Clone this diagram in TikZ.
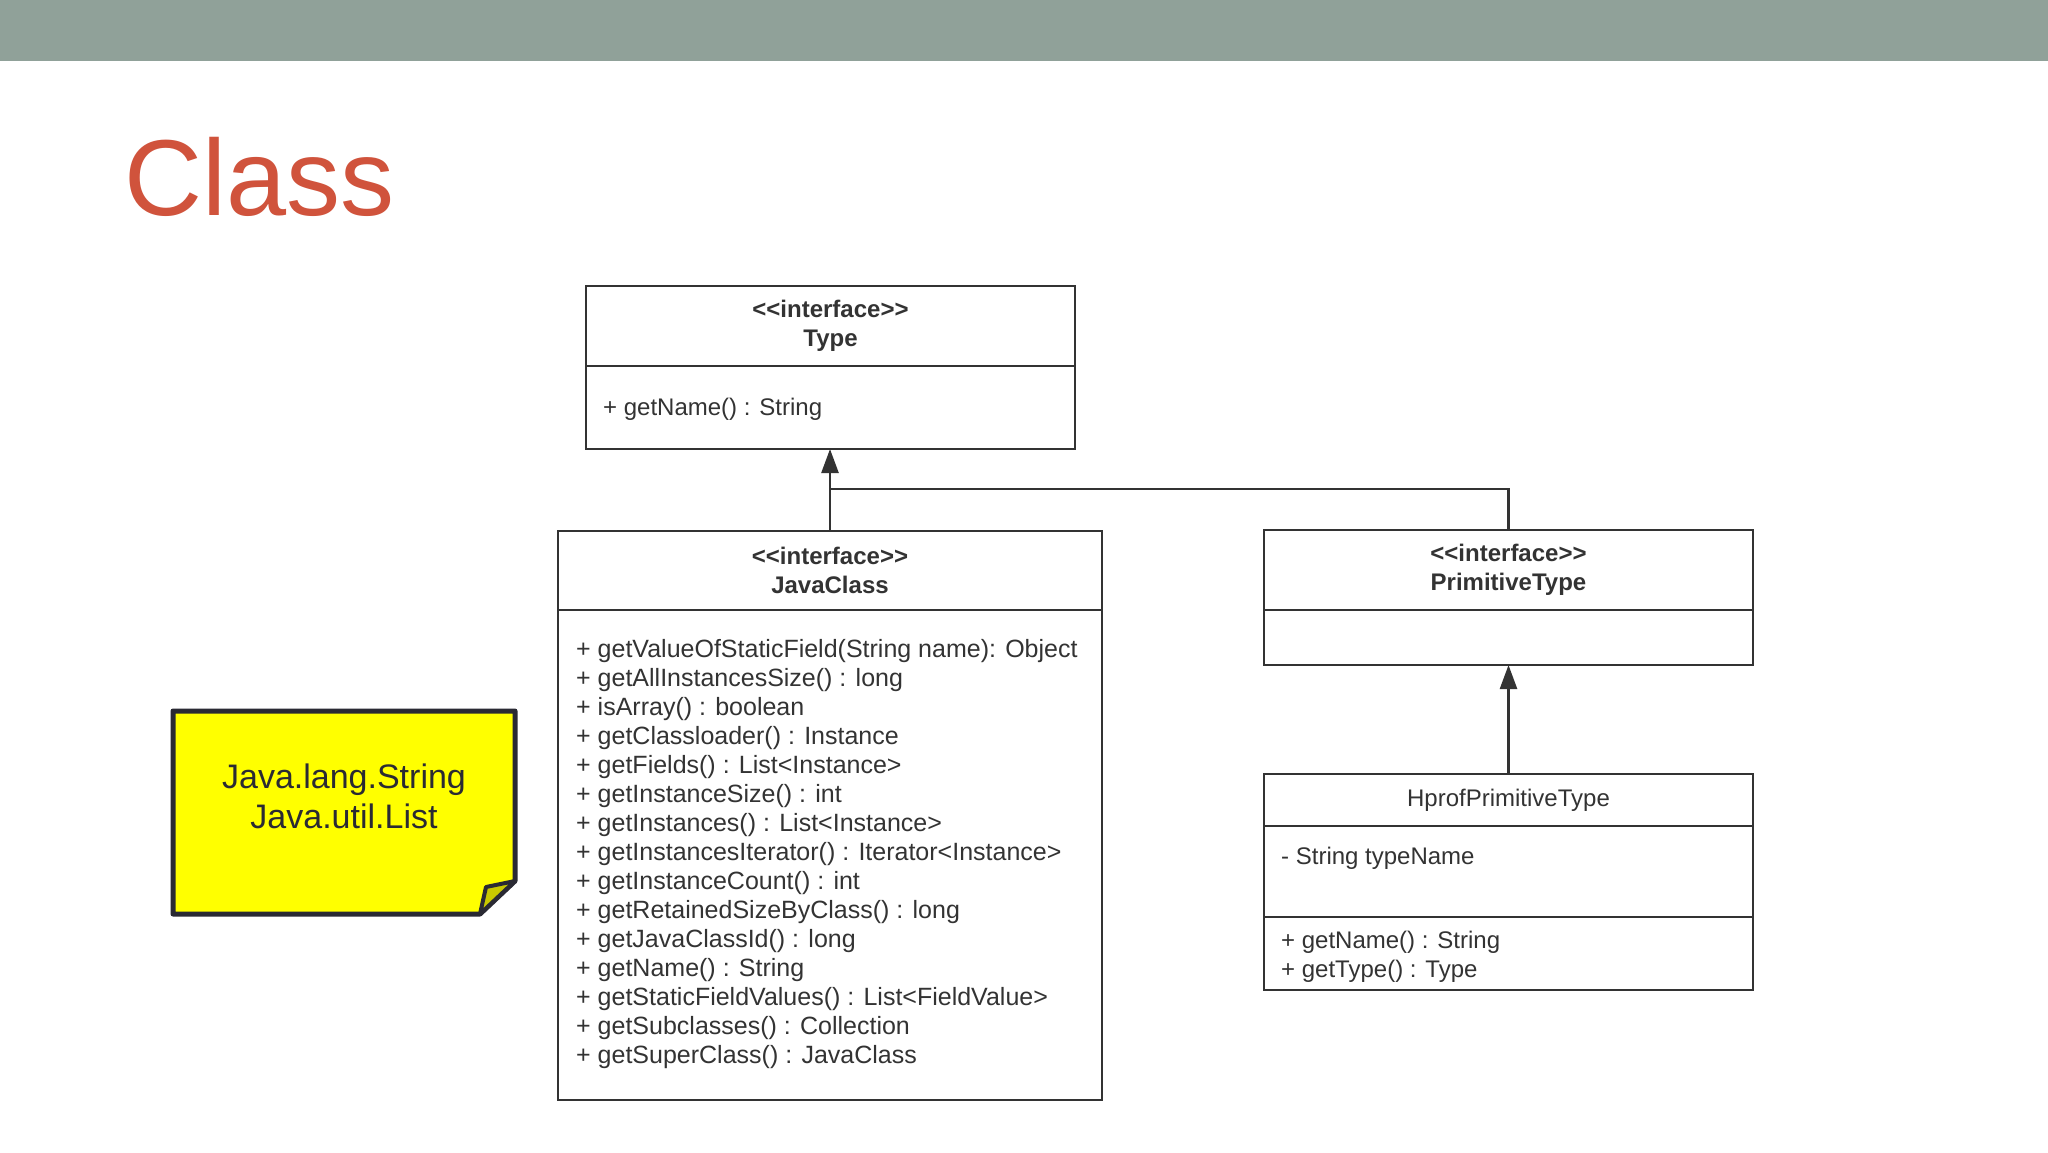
\documentclass[tikz,border=0pt]{standalone}
\usepackage{fontspec}
\setmainfont{Liberation Sans}
\usetikzlibrary{arrows.meta}
\definecolor{barcol}{HTML}{90A199}
\definecolor{titlered}{HTML}{D0533C}
\definecolor{ink}{HTML}{333333}
\definecolor{noteyellow}{HTML}{FFFF00}
\definecolor{noteline}{HTML}{2A2A33}
\definecolor{flapcol}{HTML}{C8C800}
\begin{document}
\begin{tikzpicture}[x=1pt,y=-1pt,
  umlbox/.style={draw=ink, line width=2.5pt, fill=white, inner sep=0pt, outer sep=0pt},
  hdr/.style={font=\bfseries\fontsize{24}{29}\selectfont, align=center, text=ink},
  hdrplain/.style={font=\fontsize{24}{29}\selectfont, align=center, text=ink},
  mtext/.style={anchor=base west, inner sep=0pt, font=\fontsize{24}{29}\selectfont, text=ink},
  jtext/.style={anchor=base west, inner sep=0pt, font=\fontsize{25}{29}\selectfont, text=ink},
  ntext/.style={anchor=base, inner sep=0pt, text=noteline, font=\fontsize{34}{40}\selectfont},
  conn/.style={draw=ink, line width=2.5pt},
  inh/.style={conn, -{Triangle[length=24pt,width=17pt]}}]
\useasboundingbox (0,0) rectangle (2048,1152);
\fill[white] (0,0) rectangle (2048,1152);
% top bar
\fill[barcol] (0,0) rectangle (2048,61);
% title
\node[anchor=base west, inner sep=0pt, text=titlered, font=\fontsize{108}{120}\selectfont] (title) at (124,215) {Class};

% Type
\node[umlbox, hdr, minimum width=489pt, minimum height=80pt] (typeH) at (830.5,326) {<{}<interface>{}>\\Type};
\node[umlbox, minimum width=489pt, minimum height=83pt] (typeB) at (830.5,407.5) {};
\node[mtext] (typeM) at (603,415) {+ getName() : String};

% JavaClass
\node[umlbox, hdr, minimum width=544pt, minimum height=79pt] (jcH) at (830,570.5) {<{}<interface>{}>\\JavaClass};
\node[umlbox, minimum width=544pt, minimum height=490pt] (jcB) at (830,855) {};
\foreach \t [count=\i] in {
  {+ getValueOfStaticField(String name): Object},
  {+ getAllInstancesSize() : long},
  {+ isArray() : boolean},
  {+ getClassloader() : Instance},
  {+ getFields() : List<Instance>},
  {+ getInstanceSize() : int},
  {+ getInstances() : List<Instance>},
  {+ getInstancesIterator() : Iterator<Instance>},
  {+ getInstanceCount() : int},
  {+ getRetainedSizeByClass() : long},
  {+ getJavaClassId() : long},
  {+ getName() : String},
  {+ getStaticFieldValues() : List<FieldValue>},
  {+ getSubclasses() : Collection},
  {+ getSuperClass() : JavaClass}}
  \node[jtext] (jm\i) at (576,{657+29*(\i-1)}) {\t};

% PrimitiveType
\node[umlbox, hdr, minimum width=489pt, minimum height=80pt] (prH) at (1508.5,570) {<{}<interface>{}>\\PrimitiveType};
\node[umlbox, minimum width=489pt, minimum height=55pt] (prB) at (1508.5,637.5) {};

% HprofPrimitiveType
\node[umlbox, hdrplain, minimum width=489pt, minimum height=52pt] (hpH) at (1508.5,800) {HprofPrimitiveType};
\node[umlbox, minimum width=489pt, minimum height=91pt] (hpA) at (1508.5,871.5) {};
\node[umlbox, minimum width=489pt, minimum height=73pt] (hpM) at (1508.5,953.5) {};
\node[mtext] (hpa1) at (1281,864) {- String typeName};
\node[mtext] (hpm1) at (1281,948) {+ getName() : String};
\node[mtext] (hpm2) at (1281,977) {+ getType() : Type};

% connectors
\coordinate (j) at (830,489);
\draw[inh] (jcH.north) -- (jcH.north |- typeB.south);
\draw[conn] (prH.north) |- (j);
\draw[inh] (hpH.north) -- (prB.south);

% note
\draw[draw=noteline, fill=noteyellow, line width=5pt, line join=round]
  (173,711) -- (515,711) -- (515,881) -- (480,914) -- (173,914) -- cycle;
\draw[draw=noteline, fill=flapcol, line width=4pt, line join=round]
  (515,881) -- (486,887) -- (480,914) -- cycle;
\node[ntext] (note1) at (344,788) {Java.lang.String};
\node[ntext] (note2) at (344,828) {Java.util.List};
\end{tikzpicture}
\end{document}
